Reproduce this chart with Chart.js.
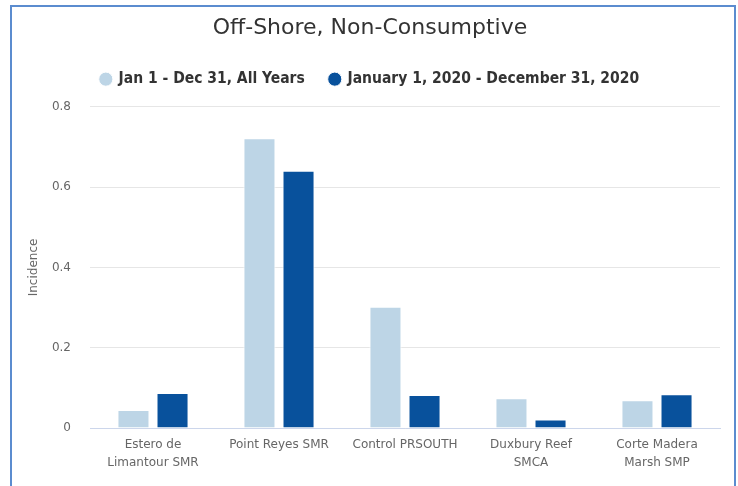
<!DOCTYPE html>
<html>
<head>
<meta charset="utf-8">
<script src="https://cdn.jsdelivr.net/npm/chart.js@4/dist/chart.umd.min.js"></script>
<style>
  html, body { margin: 0; padding: 0; background: #ffffff; }
  body { width: 738px; height: 486px; overflow: hidden; position: relative; }
  #frame {
    position: absolute; left: 10px; top: 5px; width: 722px; height: 495px;
    border: 2px solid #5b8ccf; border-bottom: none; background: #fff;
  }
  #wrap { position: absolute; left: 0; top: 0; width: 722px; height: 481px; }
</style>
</head>
<body>
<div id="frame"><div id="wrap"><canvas id="c"></canvas></div></div>
<script>
const chartTitle = "Off-Shore, Non-Consumptive";
const categories = [
  ["Estero de", "Limantour SMR"],
  "Point Reyes SMR",
  "Control PRSOUTH",
  ["Duxbury Reef", "SMCA"],
  ["Corte Madera", "Marsh SMP"]
];
const seriesNames = ["Jan 1 - Dec 31, All Years", "January 1, 2020 - December 31, 2020"];
const allYears = [0.045, 0.722, 0.302, 0.074, 0.069];
const year2020 = [0.087, 0.641, 0.082, 0.021, 0.084];
const yTicks = [0, 0.2, 0.4, 0.6, 0.8];
const yAxisTitle = "Incidence";

const sans = "'DejaVu Sans', sans-serif";
const cond = "'DejaVu Sans Condensed', 'DejaVu Sans', sans-serif";

const legendFit = {
  id: 'legendFit',
  beforeLayout(chart) {
    const lg = chart.legend;
    if (lg && !lg._patched) {
      const f = lg.fit;
      lg.fit = function () { f.call(this); this.height += 10; };
      lg._patched = true;
    }
  }
};

new Chart(document.getElementById('c'), {
  type: 'bar',
  data: {
    labels: categories,
    datasets: [
      { label: seriesNames[0], data: allYears, backgroundColor: '#bdd5e6', borderColor: '#ffffff', borderWidth: 1,
        categoryPercentage: 0.62, barPercentage: 0.82 },
      { label: seriesNames[1], data: year2020, backgroundColor: '#08519c', borderColor: '#ffffff', borderWidth: 1,
        categoryPercentage: 0.62, barPercentage: 0.82 }
    ]
  },
  plugins: [legendFit],
  options: {
    responsive: true,
    maintainAspectRatio: false,
    animation: false,
    layout: { padding: { left: 8, right: 14, top: 0, bottom: 8 } },
    plugins: {
      title: {
        display: true, text: chartTitle, color: '#333333',
        font: { family: sans, size: 22, weight: 'normal' },
        padding: { top: 8, bottom: 5 }
      },
      legend: {
        display: true, position: 'top',
        labels: {
          usePointStyle: true, pointStyle: 'circle', boxWidth: 10, boxHeight: 10,
          color: '#333333', padding: 25,
          font: { family: cond, size: 15.5, weight: 'bold' }
        }
      },
      tooltip: { enabled: false }
    },
    scales: {
      x: {
        grid: { display: false, drawTicks: false },
        border: { display: true, color: '#ccd6eb', width: 1 },
        ticks: { color: '#666666', padding: 8, maxRotation: 0, autoSkip: false,
          font: { family: sans, size: 12, lineHeight: 1.5 } }
      },
      y: {
        min: 0, max: 0.8,
        afterFit: s => { s.width = 70; },
        afterBuildTicks: s => { s.ticks = yTicks.map(v => ({ value: v })); },
        grid: { color: '#e6e6e6', drawTicks: false },
        border: { display: false },
        ticks: { color: '#666666', padding: 19,
          font: { family: sans, size: 12 },
          callback: v => (v === 0 ? '0' : v.toFixed(1)) },
        title: { display: true, text: yAxisTitle, color: '#666666',
          font: { family: sans, size: 12 }, padding: { top: 7, bottom: 0 } }
      }
    }
  }
});
</script>
</body>
</html>
